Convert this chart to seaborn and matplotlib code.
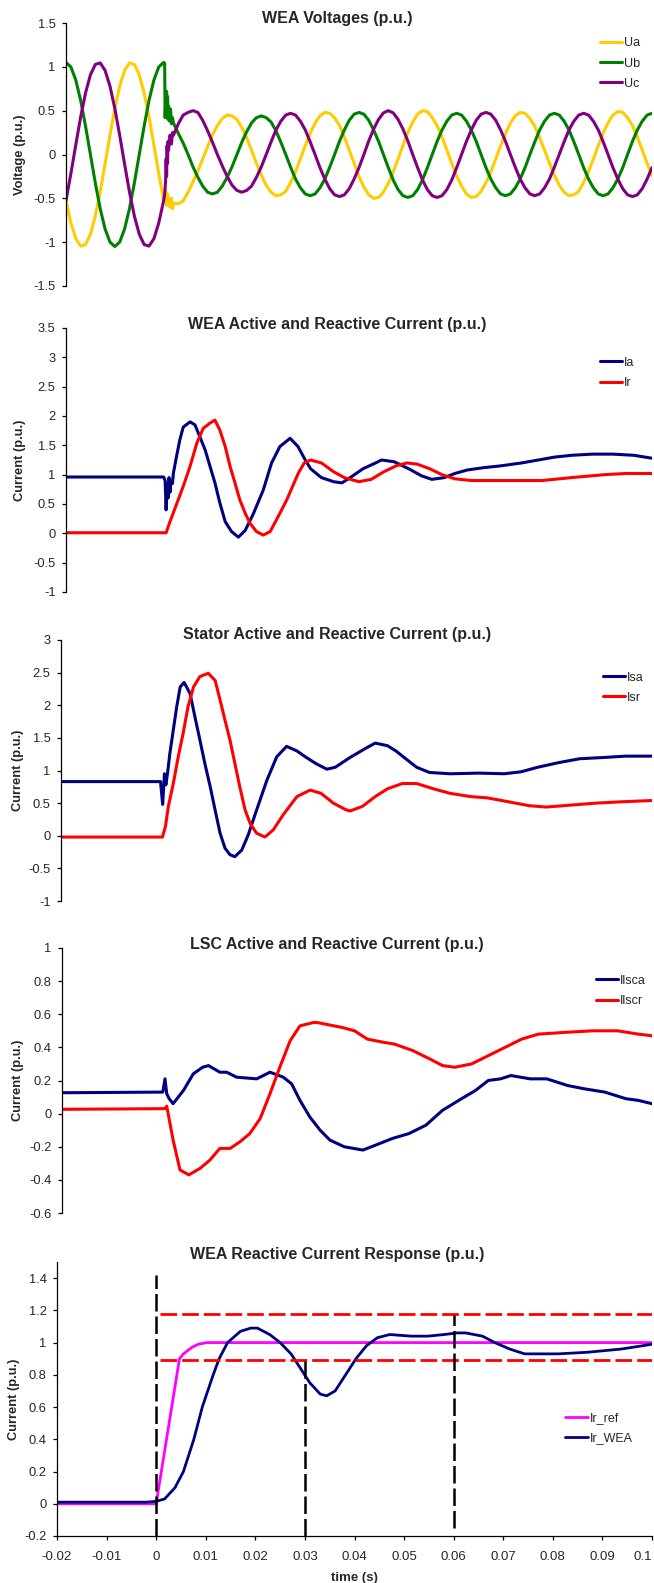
import numpy as np
import pandas as pd
import matplotlib
matplotlib.use("Agg")
import matplotlib.pyplot as plt
from matplotlib.ticker import FuncFormatter
import seaborn as sns

# --- time grid for the voltage traces (1 ms steps) ---
T_GRID = np.round(np.linspace(-0.02, 0.1, 121), 4)

UA = [-0.525, -0.78, -0.96, -1.045, -1.027, -0.909, -0.702, -0.427, -0.11, 0.218,
      0.525, 0.78, 0.96, 1.045, 1.027, 0.909, 0.702, 0.427, 0.11, -0.218, -0.525,
      -0.52, -0.56, -0.56, -0.53, -0.43, -0.31, -0.19, -0.05, 0.09, 0.225,
      0.33, 0.41, 0.45, 0.44, 0.40, 0.31, 0.19, 0.05, -0.10, -0.235,
      -0.35, -0.43, -0.47, -0.46, -0.42, -0.32, -0.195, -0.05, 0.10, 0.24,
      0.357, 0.44, 0.48, 0.47, 0.42, 0.33, 0.20, 0.05, -0.10, -0.25,
      -0.37, -0.46, -0.50, -0.49, -0.43, -0.33, -0.20, -0.05, 0.10, 0.25,
      0.37, 0.46, 0.50, 0.49, 0.42, 0.33, 0.20, 0.05, -0.10, -0.245,
      -0.36, -0.45, -0.49, -0.48, -0.42, -0.32, -0.20, -0.05, 0.10, 0.24,
      0.36, 0.44, 0.48, 0.47, 0.41, 0.32, 0.19, 0.05, -0.10, -0.235,
      -0.35, -0.43, -0.47, -0.46, -0.42, -0.32, -0.195, -0.05, 0.10, 0.245,
      0.36, 0.45, 0.49, 0.48, 0.42, 0.33, 0.20, 0.05, -0.10, -0.245]
UB = [1.05, 0.999, 0.849, 0.617, 0.324, 0.0, -0.324, -0.617, -0.849, -0.999,
      -1.05, -0.999, -0.849, -0.617, -0.324, 0.0, 0.324, 0.617, 0.849, 0.999, 1.05,
      0.55, 0.36, 0.24, 0.13, 0.0, -0.14, -0.26, -0.36, -0.43, -0.45,
      -0.43, -0.36, -0.26, -0.14, 0.0, 0.14, 0.26, 0.36, 0.42, 0.44,
      0.42, 0.37, 0.27, 0.14, 0.0, -0.145, -0.28, -0.38, -0.45, -0.47,
      -0.45, -0.38, -0.28, -0.145, 0.0, 0.15, 0.28, 0.39, 0.46, 0.48,
      0.46, 0.39, 0.28, 0.15, 0.0, -0.15, -0.29, -0.40, -0.47, -0.49,
      -0.47, -0.40, -0.29, -0.15, 0.0, 0.15, 0.28, 0.38, 0.45, 0.47,
      0.45, 0.38, 0.28, 0.15, 0.0, -0.15, -0.28, -0.38, -0.45, -0.47,
      -0.45, -0.38, -0.28, -0.15, 0.0, 0.145, 0.28, 0.38, 0.45, 0.47,
      0.45, 0.38, 0.28, 0.145, 0.0, -0.15, -0.28, -0.38, -0.45, -0.47,
      -0.45, -0.38, -0.28, -0.15, 0.0, 0.15, 0.28, 0.38, 0.45, 0.47]
UC = [-0.525, -0.218, 0.11, 0.427, 0.702, 0.909, 1.027, 1.045, 0.96, 0.78,
      0.525, 0.218, -0.11, -0.427, -0.702, -0.909, -1.027, -1.045, -0.96, -0.78, -0.525,
      0.05, 0.22, 0.35, 0.45, 0.48, 0.50, 0.48, 0.39, 0.27, 0.14,
      0.0, -0.13, -0.25, -0.35, -0.41, -0.43, -0.41, -0.36, -0.26, -0.14,
      0.0, 0.145, 0.28, 0.38, 0.45, 0.47, 0.45, 0.38, 0.28, 0.145,
      0.0, -0.15, -0.28, -0.39, -0.46, -0.48, -0.46, -0.39, -0.28, -0.15,
      0.0, 0.155, 0.29, 0.40, 0.475, 0.50, 0.475, 0.40, 0.29, 0.155,
      0.0, -0.15, -0.29, -0.40, -0.47, -0.49, -0.47, -0.40, -0.29, -0.15,
      0.0, 0.15, 0.28, 0.39, 0.46, 0.48, 0.46, 0.39, 0.28, 0.15,
      0.0, -0.145, -0.28, -0.38, -0.45, -0.47, -0.45, -0.38, -0.28, -0.145,
      0.0, 0.145, 0.28, 0.38, 0.45, 0.47, 0.45, 0.38, 0.28, 0.145,
      0.0, -0.15, -0.28, -0.39, -0.46, -0.48, -0.46, -0.39, -0.28, -0.15]

# extra samples around the fault instant (noisy jump)
UA_FAULT_T = [0.0002, 0.0004, 0.0006, 0.0008, 0.0013, 0.0016, 0.0018]
UA_FAULT_V = [-0.5, -0.4, -0.58, -0.45, -0.6, -0.5, -0.62]
UB_FAULT_T = [0.0002, 0.0003, 0.0004, 0.0005, 0.0006, 0.0007, 0.0008, 0.0009,
              0.0012, 0.0014, 0.0016, 0.0018]
UB_FAULT_V = [1.04, 0.42, 0.62, 0.45, 0.72, 0.5, 0.66, 0.4, 0.38, 0.52, 0.35, 0.42]
UC_FAULT_T = [0.0002, 0.0004, 0.0005, 0.0006, 0.0007, 0.0008, 0.0009, 0.0013, 0.0016, 0.0018]
UC_FAULT_V = [-0.45, -0.3, -0.05, -0.25, 0.1, -0.1, 0.15, 0.22, 0.12, 0.25]

# --- WEA active / reactive current ---
IA_T = [-0.02, 0.0, 0.0003, 0.0005, 0.0007, 0.0009, 0.0011, 0.0013, 0.0015, 0.0018, 0.002,
        0.0027, 0.0033, 0.004, 0.0054, 0.0064, 0.0074, 0.0085, 0.0095, 0.0105, 0.0115,
        0.0126, 0.0139, 0.0153, 0.0167, 0.0184, 0.0204, 0.0221, 0.0238, 0.0259, 0.0275,
        0.029, 0.0301, 0.0323, 0.0348, 0.0365, 0.0382, 0.0408, 0.0434, 0.0446, 0.0472,
        0.0502, 0.0528, 0.0549, 0.0575, 0.0596, 0.0622, 0.0656, 0.069, 0.0733, 0.0767,
        0.0801, 0.0835, 0.0878, 0.092, 0.0963, 0.1]
IA_V = [0.96, 0.96, 0.9, 0.4, 0.85, 0.6, 0.95, 0.7, 0.9, 0.85, 1.03,
        1.34, 1.59, 1.81, 1.9, 1.85, 1.65, 1.42, 1.14, 0.86, 0.52,
        0.2, 0.03, -0.065, 0.05, 0.34, 0.74, 1.2, 1.48, 1.62, 1.48,
        1.25, 1.1, 0.95, 0.88, 0.86, 0.95, 1.1, 1.2, 1.25, 1.22,
        1.1, 0.98, 0.92, 0.95, 1.02, 1.08, 1.12, 1.15, 1.2, 1.25,
        1.3, 1.33, 1.35, 1.35, 1.33, 1.28]
IR_T = [-0.02, 0.0005, 0.0013, 0.0027, 0.004, 0.0054, 0.0068, 0.0081, 0.0095, 0.0105,
        0.0115, 0.0126, 0.0136, 0.0146, 0.0156, 0.0167, 0.0177, 0.019, 0.0204, 0.0218,
        0.0231, 0.0252, 0.0276, 0.0288, 0.0301, 0.0323, 0.0348, 0.037, 0.0391, 0.04,
        0.0425, 0.0451, 0.0476, 0.0498, 0.0519, 0.0545, 0.057, 0.0596, 0.063, 0.069,
        0.0733, 0.0775, 0.0835, 0.0903, 0.0946, 0.1]
IR_V = [0.01, 0.01, 0.2, 0.51, 0.8, 1.14, 1.54, 1.79, 1.88, 1.93,
        1.76, 1.48, 1.14, 0.86, 0.57, 0.34, 0.17, 0.03, -0.03, 0.03,
        0.23, 0.57, 1.03, 1.2, 1.25, 1.2, 1.05, 0.95, 0.9, 0.88,
        0.92, 1.05, 1.15, 1.2, 1.18, 1.1, 1.0, 0.93, 0.9, 0.9,
        0.9, 0.9, 0.95, 1.0, 1.02, 1.02]

# --- stator current ---
ISA_T = [-0.02, 0.0002, 0.00065, 0.001, 0.0013, 0.0017, 0.0021, 0.0028, 0.0035, 0.0042,
         0.005, 0.0062, 0.0072, 0.0082, 0.0092, 0.0103, 0.0113, 0.0123, 0.0133, 0.0143,
         0.0153, 0.0167, 0.018, 0.0197, 0.0218, 0.0238, 0.0258, 0.0279, 0.0298, 0.0319,
         0.034, 0.0357, 0.0387, 0.0421, 0.0438, 0.0463, 0.048, 0.0505, 0.0522, 0.0548,
         0.059, 0.0649, 0.07, 0.0734, 0.0768, 0.081, 0.0853, 0.0903, 0.0946, 0.1]
ISA_V = [0.83, 0.83, 0.48, 0.95, 0.78, 1.0, 1.26, 1.62, 1.98, 2.28,
         2.35, 2.18, 1.82, 1.47, 1.11, 0.75, 0.39, 0.04, -0.19, -0.29,
         -0.32, -0.22, 0.01, 0.39, 0.85, 1.21, 1.37, 1.3, 1.2, 1.1,
         1.02, 1.05, 1.2, 1.35, 1.42, 1.38, 1.3, 1.15, 1.05, 0.97,
         0.95, 0.96, 0.95, 0.98, 1.05, 1.12, 1.18, 1.2, 1.22, 1.22]
ISR_T = [-0.02, 0.0006, 0.0012, 0.0018, 0.0028, 0.0038, 0.0048, 0.0058, 0.0069, 0.0082,
         0.0099, 0.0113, 0.0123, 0.0133, 0.0143, 0.0153, 0.0163, 0.0174, 0.0184, 0.0197,
         0.0214, 0.0231, 0.0251, 0.0279, 0.0306, 0.0328, 0.0353, 0.0378, 0.0387, 0.0412,
         0.0438, 0.0463, 0.0493, 0.0522, 0.0556, 0.059, 0.0632, 0.0666, 0.0709, 0.0751,
         0.0785, 0.0836, 0.0886, 0.0937, 0.1]
ISR_V = [-0.02, -0.02, 0.14, 0.45, 0.8, 1.21, 1.57, 1.98, 2.28, 2.44,
         2.49, 2.38, 2.08, 1.77, 1.47, 1.11, 0.75, 0.39, 0.19, 0.04,
         -0.02, 0.09, 0.32, 0.6, 0.7, 0.65, 0.5, 0.4, 0.38, 0.45,
         0.6, 0.72, 0.8, 0.8, 0.72, 0.65, 0.6, 0.58, 0.52, 0.46,
         0.44, 0.47, 0.5, 0.52, 0.54]

# --- line side converter current ---
ILSCA_T = [-0.02, 0.0005, 0.00095, 0.0013, 0.0018, 0.0026, 0.0047, 0.0067, 0.0086, 0.0098,
           0.0121, 0.0135, 0.0155, 0.0196, 0.0223, 0.025, 0.0267, 0.0284, 0.0304, 0.0325,
           0.0345, 0.0374, 0.0412, 0.0438, 0.0472, 0.0506, 0.054, 0.0574, 0.0607, 0.0641,
           0.0667, 0.0692, 0.0713, 0.0752, 0.0786, 0.0828, 0.0862, 0.0904, 0.0947, 0.0972, 0.1]
ILSCA_V = [0.126, 0.13, 0.21, 0.12, 0.09, 0.06, 0.14, 0.24, 0.28, 0.29,
           0.25, 0.25, 0.22, 0.21, 0.25, 0.22, 0.18, 0.08, -0.02, -0.1,
           -0.16, -0.2, -0.22, -0.19, -0.15, -0.12, -0.07, 0.02, 0.08, 0.14,
           0.2, 0.21, 0.23, 0.21, 0.21, 0.17, 0.15, 0.13, 0.09, 0.08, 0.06]
ILSCR_T = [-0.02, 0.0009, 0.0013, 0.0026, 0.004, 0.0058, 0.0081, 0.0101, 0.0121, 0.0142,
           0.0162, 0.0182, 0.0203, 0.0223, 0.0243, 0.0264, 0.0284, 0.0311, 0.0319, 0.037,
           0.0395, 0.0421, 0.0455, 0.0476, 0.0514, 0.0548, 0.0574, 0.0599, 0.0633, 0.0667,
           0.0701, 0.0735, 0.0769, 0.082, 0.0879, 0.093, 0.0972, 0.1]
ILSCR_V = [0.026, 0.03, 0.045, -0.16, -0.34, -0.37, -0.33, -0.28, -0.21, -0.21,
           -0.17, -0.12, -0.03, 0.12, 0.28, 0.44, 0.53, 0.55, 0.55, 0.52,
           0.5, 0.45, 0.43, 0.42, 0.38, 0.33, 0.29, 0.28, 0.3, 0.35,
           0.4, 0.45, 0.48, 0.49, 0.5, 0.5, 0.48, 0.47]

# --- reactive current response ---
IRREF_T = [-0.02, 0.0, 0.0047, 0.0055, 0.0072, 0.0085, 0.0102, 0.1]
IRREF_V = [0.0, 0.0, 0.9, 0.93, 0.97, 0.99, 1.0, 1.0]
IRWEA_T = [-0.02, -0.002, 0.0, 0.0017, 0.0038, 0.0055, 0.0076, 0.0093, 0.0115, 0.0127,
           0.0144, 0.017, 0.0191, 0.0204, 0.0229, 0.025, 0.0272, 0.0289, 0.031, 0.0331,
           0.0344, 0.0361, 0.0382, 0.0403, 0.0424, 0.0446, 0.0471, 0.0514, 0.0548, 0.0581,
           0.0607, 0.0624, 0.0658, 0.0683, 0.0713, 0.0743, 0.0777, 0.0811, 0.087, 0.0938,
           0.098, 0.1]
IRWEA_V = [0.01, 0.01, 0.015, 0.03, 0.1, 0.2, 0.4, 0.6, 0.8, 0.9,
           1.0, 1.07, 1.09, 1.09, 1.05, 1.0, 0.93, 0.85, 0.75, 0.68,
           0.67, 0.7, 0.8, 0.9, 0.98, 1.03, 1.05, 1.04, 1.04, 1.05,
           1.06, 1.06, 1.04, 1.0, 0.96, 0.93, 0.93, 0.93, 0.94, 0.96,
           0.98, 0.99]

# dashed guide lines (time markers and tolerance band)
VLINE_T = [0.0, 0.03, 0.06]
VLINE_LO = [-0.2, -0.2, -0.15]
VLINE_HI = [1.42, 0.9, 1.17]
BAND_Y = [1.175, 0.89]
BAND_T = [0.0007, 0.1]

X_TICKS = [-0.02, -0.01, 0.0, 0.01, 0.02, 0.03, 0.04, 0.05, 0.06, 0.07, 0.08, 0.09, 0.1]

C_UA, C_UB, C_UC = "#FFCC00", "#008000", "#800080"
NAVY, RED, MAGENTA = "#000080", "#FF0000", "#FF00FF"
LW = 2.2

W, H = 654, 1583

sns.set_style("white")
plt.rcParams["font.family"] = ["Liberation Sans", "DejaVu Sans"]
plt.rcParams["axes.unicode_minus"] = False

fig = plt.figure(figsize=(W / 100, H / 100), dpi=100)
fmt = FuncFormatter(lambda v, p: f"{v + 0:g}")


def make_axes(left, right, top, bottom):
    return fig.add_axes([left / W, 1 - bottom / H, (right - left) / W, (bottom - top) / H])


def merged(grid_t, grid_v, extra_t, extra_v):
    df = pd.DataFrame({"t": list(grid_t) + list(extra_t), "v": list(grid_v) + list(extra_v)})
    return df.sort_values("t")


def draw(ax, t, v, color, label, lw=LW):
    sns.lineplot(x=t, y=v, ax=ax, color=color, lw=lw, label=label,
                 estimator=None, sort=False, errorbar=None)


def style(ax, ylim, yticks, ylabel, title, title_y, label_x, legend_xy, last=False):
    ax.set_xlim(-0.02, 0.1)
    ax.set_ylim(*ylim)
    ax.set_yticks(yticks)
    ax.yaxis.set_major_formatter(fmt)
    for s in ["top", "right"]:
        ax.spines[s].set_visible(False)
    ax.spines["left"].set_linewidth(0.9)
    ax.spines["left"].set_color("black")
    ax.tick_params(axis="y", direction="out", length=3, width=0.9, pad=4.5,
                   labelsize=9.3, left=True, color="black")
    if last:
        ax.spines["bottom"].set_linewidth(0.9)
        ax.spines["bottom"].set_color("black")
        ax.set_xticks(X_TICKS)
        ax.xaxis.set_major_formatter(fmt)
        ax.tick_params(axis="x", direction="out", length=3, width=0.9, pad=7.5,
                       labelsize=9.5, bottom=True, color="black")
        # keep the last tick label inside the figure
        ax.get_xticklabels()[-1].set_ha("right")
        ax.set_xlabel("time (s)", fontsize=9.5, fontweight="bold")
        ax.xaxis.set_label_coords(0.5, -0.13)
    else:
        ax.spines["bottom"].set_visible(False)
        ax.tick_params(axis="x", bottom=False, labelbottom=False)
        ax.set_xlabel("")
    ax.set_ylabel(ylabel, fontsize=9.3, fontweight="bold")
    ax.yaxis.set_label_coords(label_x, 0.5)
    fig.text(337 / W, 1 - title_y / H, title, ha="center", va="center",
             fontsize=11.5, fontweight="bold")
    ax.legend(loc="upper left", bbox_to_anchor=legend_xy, frameon=False, fontsize=9,
              handlelength=1.8, handletextpad=0.15, labelspacing=0.65, borderpad=0,
              borderaxespad=0)


# --- panel 1: voltages ---
ax1 = make_axes(66, 652, 23, 286)
a = merged(T_GRID, UA, UA_FAULT_T, UA_FAULT_V)
b = merged(T_GRID, UB, UB_FAULT_T, UB_FAULT_V)
c = merged(T_GRID, UC, UC_FAULT_T, UC_FAULT_V)
draw(ax1, a["t"], a["v"], C_UA, "Ua")
draw(ax1, b["t"], b["v"], C_UB, "Ub")
draw(ax1, c["t"], c["v"], C_UC, "Uc")
style(ax1, (-1.5, 1.5), [-1.5, -1, -0.5, 0, 0.5, 1, 1.5], "Voltage (p.u.)",
      "WEA Voltages (p.u.)", 18.5, -0.069, (0.911, 0.945))

# --- panel 2: WEA currents ---
ax2 = make_axes(66, 652, 328, 592)
draw(ax2, IA_T, IA_V, NAVY, "Ia")
draw(ax2, IR_T, IR_V, RED, "Ir")
style(ax2, (-1, 3.5), [-1, -0.5, 0, 0.5, 1, 1.5, 2, 2.5, 3, 3.5], "Current (p.u.)",
      "WEA Active and Reactive Current (p.u.)", 324.5, -0.069, (0.911, 0.891))

# --- panel 3: stator currents ---
ax3 = make_axes(61, 652, 640, 901)
draw(ax3, ISA_T, ISA_V, NAVY, "Isa")
draw(ax3, ISR_T, ISR_V, RED, "Isr")
style(ax3, (-1, 3), [-1, -0.5, 0, 0.5, 1, 1.5, 2, 2.5, 3], "Current (p.u.)",
      "Stator Active and Reactive Current (p.u.)", 634.5, -0.063, (0.917, 0.879))

# --- panel 4: LSC currents ---
ax4 = make_axes(62, 652, 948, 1213)
draw(ax4, ILSCA_T, ILSCA_V, NAVY, "Ilsca")
draw(ax4, ILSCR_T, ILSCR_V, RED, "Ilscr")
style(ax4, (-0.6, 1), [-0.6, -0.4, -0.2, 0, 0.2, 0.4, 0.6, 0.8, 1], "Current (p.u.)",
      "LSC Active and Reactive Current (p.u.)", 944.5, -0.064, (0.905, 0.899))

# --- panel 5: reactive current response ---
ax5 = make_axes(57, 652, 1262, 1536)
draw(ax5, IRREF_T, IRREF_V, MAGENTA, "Ir_ref", lw=2.0)
draw(ax5, IRWEA_T, IRWEA_V, NAVY, "Ir_WEA", lw=2.0)
ax5.hlines(BAND_Y, BAND_T[0], BAND_T[1], colors=RED, lw=2.0,
           linestyles=[(0, (6, 1.8))], zorder=3)
ax5.vlines(VLINE_T, VLINE_LO, VLINE_HI, colors="black", lw=1.8,
           linestyles=[(0, (7, 2))], zorder=3)
style(ax5, (-0.2, 1.5), [-0.2, 0, 0.2, 0.4, 0.6, 0.8, 1, 1.2, 1.4], "Current (p.u.)",
      "WEA Reactive Current Response (p.u.)", 1254, -0.062, (0.854, 0.451), last=True)

fig.savefig("out.png", dpi=100)
